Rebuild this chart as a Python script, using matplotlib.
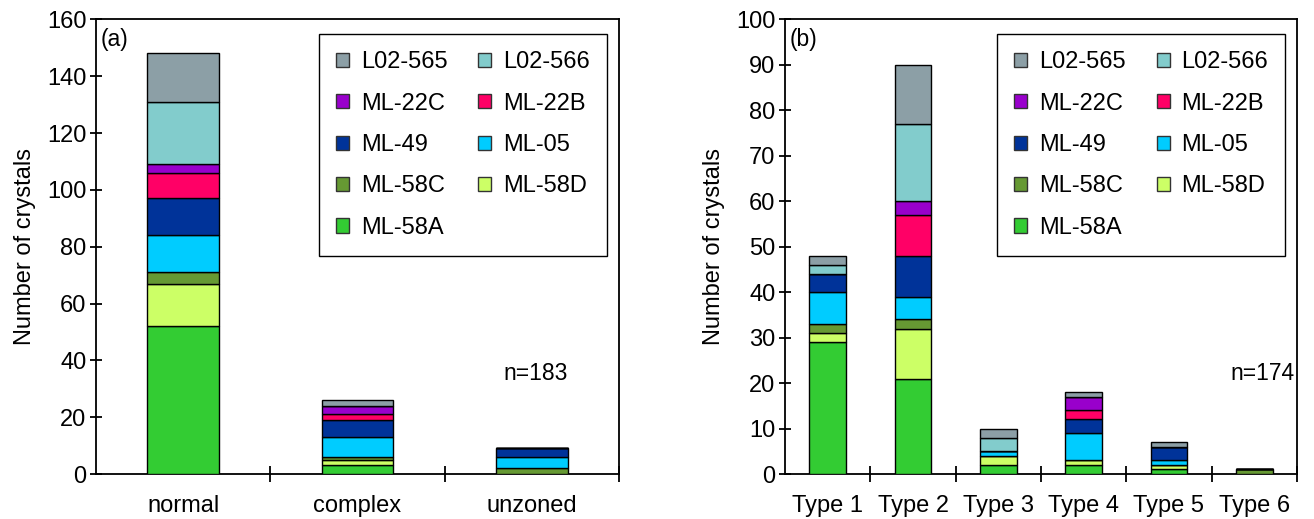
import numpy as np
import matplotlib
matplotlib.use("Agg")
import matplotlib.pyplot as plt
from matplotlib.patches import Patch

plt.rcParams["font.family"] = ["Liberation Sans", "DejaVu Sans"]

# --------------------------------------------------------------------------- #
# Veri
# --------------------------------------------------------------------------- #

samples = ["ML-58A", "ML-58D", "ML-58C", "ML-05", "ML-49",
           "ML-22B", "ML-22C", "L02-566", "L02-565"]
colors = ["#33cc33", "#ccff66", "#669933", "#00ccff", "#003399",
          "#ff0066", "#9900cc", "#82cccc", "#8c9fa6"]

zoning_cats = ["normal", "complex", "unzoned"]
zoning_counts = {
    "ML-58A": [52, 3, 0],
    "ML-58D": [15, 2, 0],
    "ML-58C": [4, 1, 2],
    "ML-05": [13, 7, 4],
    "ML-49": [13, 6, 3],
    "ML-22B": [9, 2, 0],
    "ML-22C": [3, 3, 0],
    "L02-566": [22, 0, 0],
    "L02-565": [17, 2, 0],
}

type_cats = ["Type 1", "Type 2", "Type 3", "Type 4", "Type 5", "Type 6"]
type_counts = {
    "ML-58A": [29, 21, 2, 2, 1, 0],
    "ML-58D": [2, 11, 2, 1, 1, 0],
    "ML-58C": [2, 2, 0, 0, 0, 1],
    "ML-05": [7, 5, 1, 6, 1, 0],
    "ML-49": [4, 9, 0, 3, 3, 0],
    "ML-22B": [0, 9, 0, 2, 0, 0],
    "ML-22C": [0, 3, 0, 3, 0, 0],
    "L02-566": [2, 17, 3, 0, 0, 0],
    "L02-565": [2, 13, 2, 1, 1, 0],
}

# legend row-major sırası (2 sütun)
legend_rows = [("L02-565", "L02-566"), ("ML-22C", "ML-22B"),
               ("ML-49", "ML-05"), ("ML-58C", "ML-58D"), ("ML-58A", None)]

FS = 17.0


def _draw_panel(ax, cats, counts, width, ymax, ystep, tag, ntext, ntext_x):
    x = np.arange(len(cats))
    bottom = np.zeros(len(cats))
    for name, col in zip(samples, colors):
        vals = np.asarray(counts[name], dtype=float)
        ax.bar(x, vals, width, bottom=bottom, color=col,
               edgecolor="black", linewidth=1.0, zorder=3)
        bottom += vals

    ax.set_xlim(-0.5, len(cats) - 0.5)
    ax.set_ylim(0, ymax)
    ax.set_yticks(np.arange(0, ymax + 1, ystep))
    ax.set_xticks(np.arange(len(cats)) + 0.5)
    ax.set_xticklabels([])
    ax.set_xticks(x, minor=True)
    ax.set_xticklabels(cats, minor=True)
    ax.tick_params(axis="x", which="major", direction="inout", length=12,
                   width=1.3)
    ax.tick_params(axis="x", which="minor", length=0, pad=15, labelsize=FS)
    ax.tick_params(axis="y", direction="inout", length=8, width=1.3,
                   pad=3, labelsize=FS)
    for sp in ax.spines.values():
        sp.set_linewidth(1.3)
    ax.set_ylabel("Number of crystals", fontsize=FS, labelpad=8)

    ax.text(0.008, 0.982, tag, transform=ax.transAxes, fontsize=FS - 0.5,
            ha="left", va="top")
    ax.text(ntext_x, 0.22, ntext, transform=ax.transAxes, fontsize=FS - 0.5,
            ha="center", va="center")

    handles, labels = [], []
    for col_idx in range(2):
        for row in legend_rows:
            name = row[col_idx]
            if name is None:
                continue
            handles.append(Patch(facecolor=colors[samples.index(name)],
                                 edgecolor="#333333", linewidth=1.0))
            labels.append(name)
    leg = ax.legend(handles, labels, ncol=2, loc="upper right",
                    bbox_to_anchor=(0.977, 0.967), borderaxespad=0,
                    fontsize=FS, frameon=True, fancybox=False,
                    framealpha=1, edgecolor="black",
                    handlelength=0.55, handleheight=0.55, handletextpad=0.5,
                    columnspacing=1.3, labelspacing=0.82, borderpad=0.72)
    leg.get_frame().set_linewidth(1.0)


fig = plt.figure(figsize=(13.14, 5.19), dpi=100)
ax_a = fig.add_axes([0.0731, 0.0867, 0.398, 0.876])
ax_b = fig.add_axes([0.5975, 0.0867, 0.3895, 0.876])

_draw_panel(ax_a, zoning_cats, zoning_counts, 0.41, 160, 20,
            "(a)", "n=183", 0.84)
_draw_panel(ax_b, type_cats, type_counts, 0.43, 100, 10,
            "(b)", "n=174", 0.933)

fig.savefig("out.png", dpi=100)
